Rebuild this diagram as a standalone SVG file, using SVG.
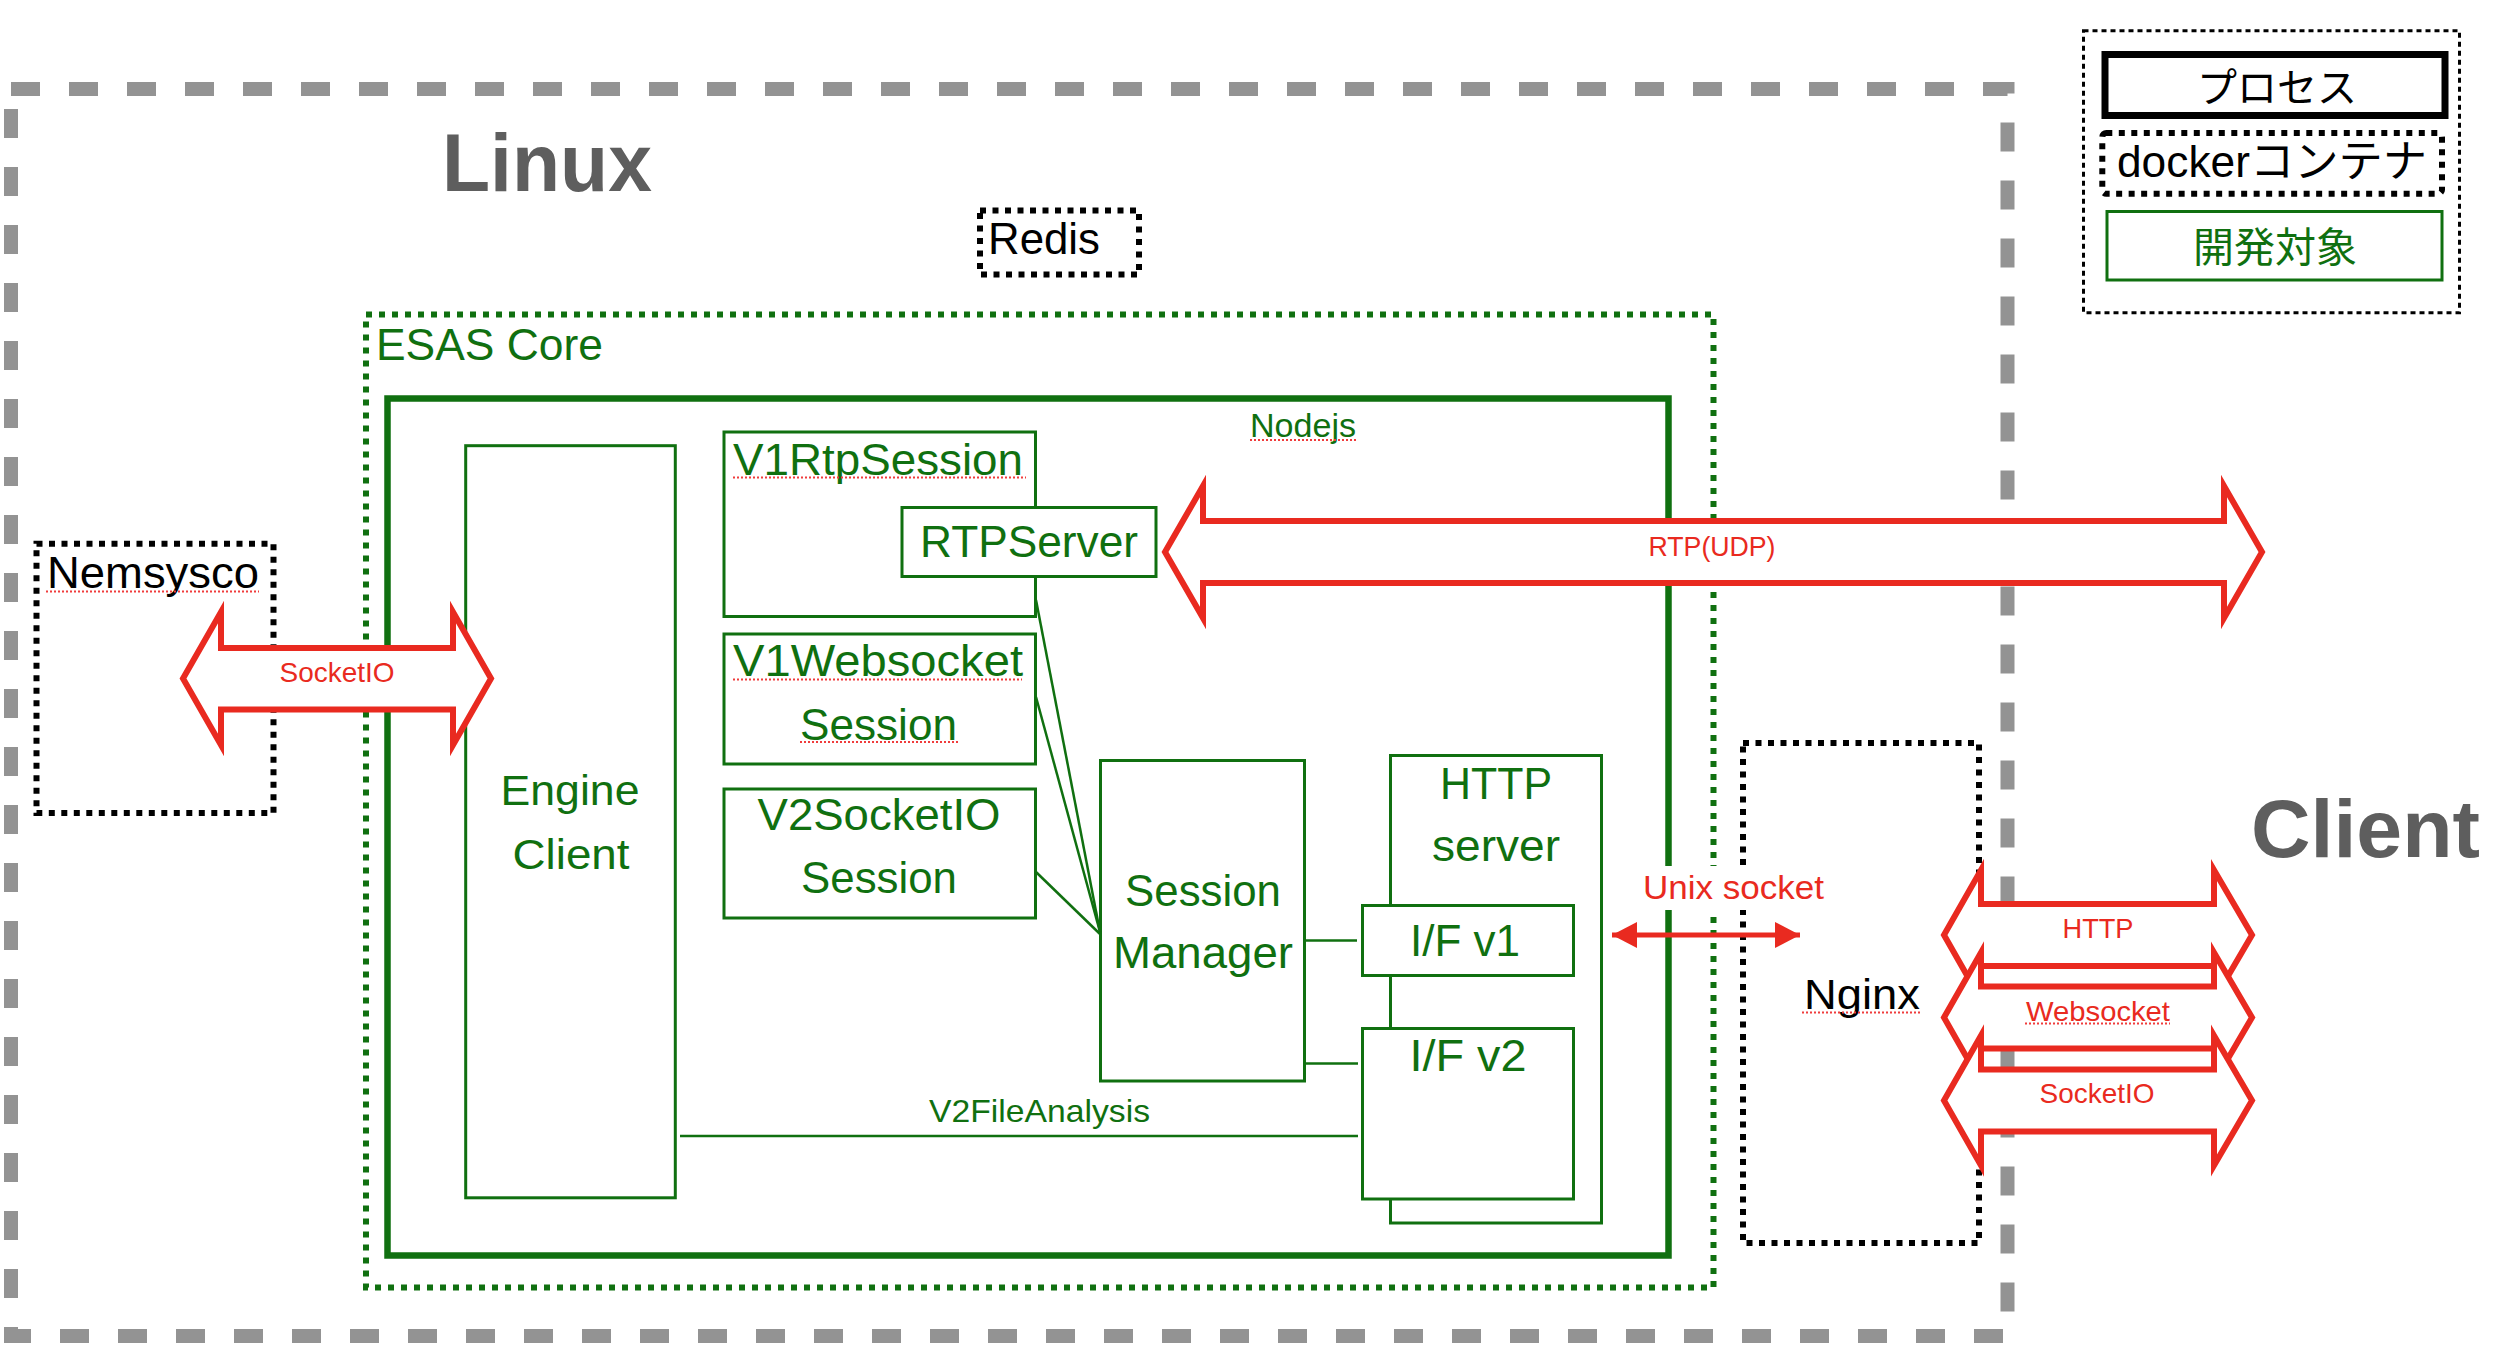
<svg xmlns="http://www.w3.org/2000/svg" width="2498" height="1354" viewBox="0 0 2498 1354">
<defs>
<style>
.t{font-family:"Liberation Sans","Noto Sans CJK JP",sans-serif;}
.g{fill:#107010;}
.r{fill:#e92a20;}
.k{fill:#000;}
.big{font-weight:bold;fill:#5e5e5e;font-size:82px;}
.box{fill:#fff;stroke:#107010;stroke-width:3;}
.dotk{fill:none;stroke:#000;stroke-width:6;stroke-dasharray:6 6.5;}
.dotg{fill:none;stroke:#107010;stroke-width:6;stroke-dasharray:6 7;}
.conn{fill:none;stroke:#107010;stroke-width:2.5;}
.fat{fill:#fff;stroke:#e92a20;stroke-width:6;stroke-linejoin:miter;}
.sq{stroke:#f03c3c;stroke-width:2;stroke-dasharray:2 2;fill:none;}
</style>
<marker id="ah" viewBox="0 0 25 26" refX="25" refY="13" markerWidth="25" markerHeight="26" markerUnits="userSpaceOnUse" orient="auto-start-reverse">
<path d="M0,0 L25,13 L0,26 Z" fill="#e92a20"/>
</marker>
</defs>
<rect width="2498" height="1354" fill="#fff"/>

<g id="linux">
<rect x="11" y="89" width="1996.5" height="1247" fill="none" stroke="#939393" stroke-width="14" stroke-dasharray="29 29"/>
<text class="t big" x="442" y="191" textLength="210" lengthAdjust="spacingAndGlyphs">Linux</text>
</g>

<g id="client">
<text class="t big" x="2251" y="857" textLength="229" lengthAdjust="spacingAndGlyphs">Client</text>
</g>

<g id="legend">
<rect x="2083.5" y="30.8" width="376" height="282" fill="none" stroke="#000" stroke-width="3" stroke-dasharray="5 4"/>
<rect x="2105" y="54.5" width="340" height="61" fill="#fff" stroke="#000" stroke-width="7"/>
<text class="t k" x="2277" y="102" font-size="40" text-anchor="middle">プロセス</text>
<rect x="2102.3" y="133" width="339.7" height="60.7" rx="4" class="dotk"/>
<text class="t k" x="2272" y="177" font-size="44" text-anchor="middle" textLength="310" lengthAdjust="spacingAndGlyphs">dockerコンテナ</text>
<rect x="2107" y="211.5" width="335" height="68.5" fill="#fff" stroke="#107010" stroke-width="3"/>
<text class="t g" x="2275" y="262" font-size="41" text-anchor="middle">開発対象</text>
</g>

<g id="redis">
<rect x="980" y="210.5" width="159" height="64" class="dotk"/>
<text class="t k" x="988" y="254" font-size="44" textLength="112" lengthAdjust="spacingAndGlyphs">Redis</text>
</g>

<g id="esas-core">
<rect x="366" y="314.5" width="1347.5" height="973" class="dotg"/>
<text class="t g" x="376" y="360" font-size="45" textLength="227" lengthAdjust="spacingAndGlyphs">ESAS Core</text>
</g>

<g id="nodejs">
<rect x="387.5" y="398.5" width="1281" height="857" fill="none" stroke="#107010" stroke-width="6.5"/>
<text class="t g" x="1250" y="437" font-size="33" textLength="106" lengthAdjust="spacingAndGlyphs">Nodejs</text>
<line class="sq" x1="1250" y1="440" x2="1357" y2="440"/>
</g>

<g id="nemsysco">
<rect x="36.5" y="543.7" width="237" height="269.3" class="dotk"/>
<text class="t k" x="47" y="588" font-size="44" textLength="212" lengthAdjust="spacingAndGlyphs">Nemsysco</text>
<line class="sq" x1="46" y1="591.5" x2="259" y2="591.5"/>
</g>

<g id="nginx">
<rect x="1743" y="743" width="236" height="500" class="dotk"/>
<text class="t k" x="1804" y="1009" font-size="43" textLength="116" lengthAdjust="spacingAndGlyphs">Nginx</text>
<line class="sq" x1="1802" y1="1012.5" x2="1921" y2="1012.5"/>
</g>

<g id="engine-client">
<rect class="box" x="465.7" y="445.7" width="209.6" height="752.1"/>
<text class="t g" x="570" y="805" font-size="42" text-anchor="middle" textLength="139" lengthAdjust="spacingAndGlyphs">Engine</text>
<text class="t g" x="571" y="869" font-size="42" text-anchor="middle" textLength="117" lengthAdjust="spacingAndGlyphs">Client</text>
</g>

<g id="v1rtpsession">
<rect class="box" x="724" y="432" width="311.5" height="184.5"/>
<text class="t g" x="733" y="475" font-size="44" textLength="290" lengthAdjust="spacingAndGlyphs">V1RtpSession</text>
<line class="sq" x1="733" y1="477.5" x2="1026" y2="477.5"/>
</g>

<g id="rtpserver">
<rect class="box" x="902" y="507.5" width="254" height="69"/>
<text class="t g" x="920" y="557" font-size="44" textLength="218" lengthAdjust="spacingAndGlyphs">RTPServer</text>
</g>

<g id="v1websocket-session">
<rect class="box" x="724" y="634" width="311.5" height="130"/>
<text class="t g" x="733" y="676" font-size="44" textLength="290" lengthAdjust="spacingAndGlyphs">V1Websocket</text>
<line class="sq" x1="733" y1="679.5" x2="1022" y2="679.5"/>
<text class="t g" x="800" y="740" font-size="44" textLength="157" lengthAdjust="spacingAndGlyphs">Session</text>
<line class="sq" x1="800" y1="742" x2="960" y2="742"/>
</g>

<g id="v2socketio-session">
<rect class="box" x="724" y="789" width="311.5" height="129"/>
<text class="t g" x="879" y="830" font-size="44" text-anchor="middle" textLength="243" lengthAdjust="spacingAndGlyphs">V2SocketIO</text>
<text class="t g" x="879" y="892.5" font-size="44" text-anchor="middle" textLength="156" lengthAdjust="spacingAndGlyphs">Session</text>
</g>

<g id="session-manager">
<rect class="box" x="1100.5" y="760.5" width="204" height="320.5"/>
<text class="t g" x="1203" y="906" font-size="44" text-anchor="middle" textLength="156" lengthAdjust="spacingAndGlyphs">Session</text>
<text class="t g" x="1203" y="968" font-size="44" text-anchor="middle" textLength="180" lengthAdjust="spacingAndGlyphs">Manager</text>
</g>

<g id="http-server">
<rect class="box" x="1390.5" y="755.5" width="211" height="467.5"/>
<text class="t g" x="1496" y="799" font-size="44" text-anchor="middle" textLength="112" lengthAdjust="spacingAndGlyphs">HTTP</text>
<text class="t g" x="1496" y="861" font-size="44" text-anchor="middle" textLength="128" lengthAdjust="spacingAndGlyphs">server</text>
</g>

<g id="if-v1">
<rect class="box" x="1362.5" y="905.5" width="211" height="70"/>
<text class="t g" x="1465" y="956" font-size="44" text-anchor="middle" textLength="110" lengthAdjust="spacingAndGlyphs">I/F v1</text>
</g>

<g id="if-v2">
<rect class="box" x="1362.5" y="1028.5" width="211" height="170.5"/>
<text class="t g" x="1468" y="1071" font-size="44" text-anchor="middle" textLength="117" lengthAdjust="spacingAndGlyphs">I/F v2</text>
</g>

<g id="connectors">
<line class="conn" x1="1036" y1="600" x2="1100" y2="932"/>
<line class="conn" x1="1036" y1="697" x2="1100" y2="932"/>
<line class="conn" x1="1036" y1="872" x2="1100" y2="934"/>
<line class="conn" x1="1305" y1="940.5" x2="1357" y2="940.5"/>
<line class="conn" x1="1305" y1="1063.5" x2="1358" y2="1063.5"/>
<line class="conn" x1="680" y1="1136" x2="1358" y2="1136"/>
<text class="t g" x="1039.5" y="1121.5" font-size="32" text-anchor="middle" textLength="221" lengthAdjust="spacingAndGlyphs">V2FileAnalysis</text>

<polygon class="fat" points="183,678.5 221,612 221,648 453,648 453,612 491,678.5 453,745 453,709.5 221,709.5 221,745"/>
<text class="t r" x="337" y="682" font-size="28" text-anchor="middle" textLength="115" lengthAdjust="spacingAndGlyphs">SocketIO</text>

<polygon class="fat" points="1165,552 1203,486 1203,521 2224,521 2224,486 2262,552 2224,618 2224,583 1203,583 1203,618"/>
<text class="t r" x="1712" y="556" font-size="28" text-anchor="middle" textLength="127" lengthAdjust="spacingAndGlyphs">RTP(UDP)</text>

<rect x="1640" y="866" width="188" height="44" fill="#fff"/>
<text class="t r" x="1643" y="899" font-size="34" textLength="181" lengthAdjust="spacingAndGlyphs">Unix socket</text>
<line x1="1612" y1="935" x2="1800" y2="935" stroke="#e92a20" stroke-width="5" marker-start="url(#ah)" marker-end="url(#ah)"/>

<polygon class="fat" points="1944,935 1981,870 1981,904 2214,904 2214,870 2252,935 2214,1000 2214,966 1981,966 1981,1000"/>
<text class="t r" x="2098" y="938" font-size="28" text-anchor="middle" textLength="71" lengthAdjust="spacingAndGlyphs">HTTP</text>
<polygon class="fat" points="1944,1017.5 1981,952.5 1981,986.5 2214,986.5 2214,952.5 2252,1017.5 2214,1082.5 2214,1048.5 1981,1048.5 1981,1082.5"/>
<text class="t r" x="2098" y="1020.5" font-size="28" text-anchor="middle" textLength="144" lengthAdjust="spacingAndGlyphs">Websocket</text>
<line class="sq" x1="2025" y1="1023.5" x2="2170" y2="1023.5"/>
<polygon class="fat" points="1944,1100.5 1981,1035.5 1981,1069.5 2214,1069.5 2214,1035.5 2252,1100.5 2214,1165.5 2214,1131.5 1981,1131.5 1981,1165.5"/>
<text class="t r" x="2097" y="1103" font-size="28" text-anchor="middle" textLength="115" lengthAdjust="spacingAndGlyphs">SocketIO</text>
</g>
</svg>
